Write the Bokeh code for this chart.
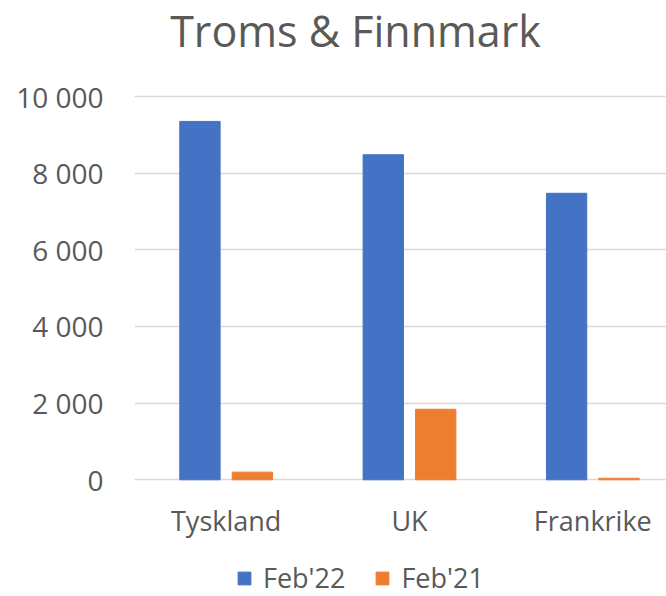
from bokeh.plotting import figure
from bokeh.models import Range1d, FixedTicker, Legend, LegendItem, ColumnDataSource, Label
from bokeh.embed import file_html
from bokeh.resources import INLINE

title_text = "Troms & Finnmark"
categories = ["Tyskland", "UK", "Frankrike"]
feb22 = [9350, 8480, 7475]
feb21 = [200, 1840, 40]
series_names = ["Feb'22", "Feb'21"]
y_ticks = [0, 2000, 4000, 6000, 8000, 10000]
y_tick_labels = ["0", "2 000", "4 000", "6 000", "8 000", "10 000"]

BLUE = "#4472C4"
ORANGE = "#ED7D31"
TEXT = "#595959"
GRID = "#D9D9D9"
FONT = "Open Sans"

centers = [i + 0.5 for i in range(len(categories))]
offset = 0.143
bw = 0.22

src22 = ColumnDataSource(dict(x=[c - offset for c in centers], top=feb22))
src21 = ColumnDataSource(dict(x=[c + offset for c in centers], top=feb21))

p = figure(width=666, height=596, output_backend="svg", toolbar_location=None, title=None,
           x_range=Range1d(0, 2.902), y_range=Range1d(-3045, 12505),
           min_border_left=134, min_border_right=0, min_border_top=0, min_border_bottom=0)

r22 = p.vbar(x="x", top="top", width=bw, source=src22, color=BLUE)
r21 = p.vbar(x="x", top="top", width=bw, source=src21, color=ORANGE)

p.add_layout(Label(x=1.2057, y=11735, text=title_text, text_align="center",
                   text_baseline="middle", text_font=FONT, text_font_size="43px",
                   text_color=TEXT))

p.outline_line_color = None
p.xgrid.grid_line_color = None
p.ygrid.grid_line_color = GRID
p.ygrid.grid_line_width = 1.5

p.yaxis.ticker = FixedTicker(ticks=y_ticks)
p.yaxis.major_label_overrides = {t: l for t, l in zip(y_ticks, y_tick_labels)}
p.xaxis.ticker = FixedTicker(ticks=centers)
p.xaxis.major_label_overrides = {c: n for c, n in zip(centers, categories)}
p.xaxis.fixed_location = 0

for ax in (p.xaxis[0], p.yaxis[0]):
    ax.axis_line_color = None
    ax.major_tick_line_color = None
    ax.minor_tick_line_color = None
    ax.major_tick_out = 0
    ax.major_tick_in = 0
    ax.major_label_text_font = FONT
    ax.major_label_text_color = TEXT
p.yaxis.major_label_text_font_size = "28px"
p.xaxis.major_label_text_font_size = "27px"
p.yaxis.major_label_standoff = 31
p.xaxis.major_label_standoff = 22

legend = Legend(items=[LegendItem(label=series_names[0], renderers=[r22]),
                       LegendItem(label=series_names[1], renderers=[r21])],
                orientation="horizontal", location=(102, 0),
                label_text_font=FONT, label_text_font_size="27px", label_text_color=TEXT,
                glyph_width=16, glyph_height=16, label_standoff=11, spacing=29,
                border_line_color=None, background_fill_alpha=0, padding=0, margin=0)
p.add_layout(legend, "center")

open("out.html", "w").write(file_html(p, INLINE))
